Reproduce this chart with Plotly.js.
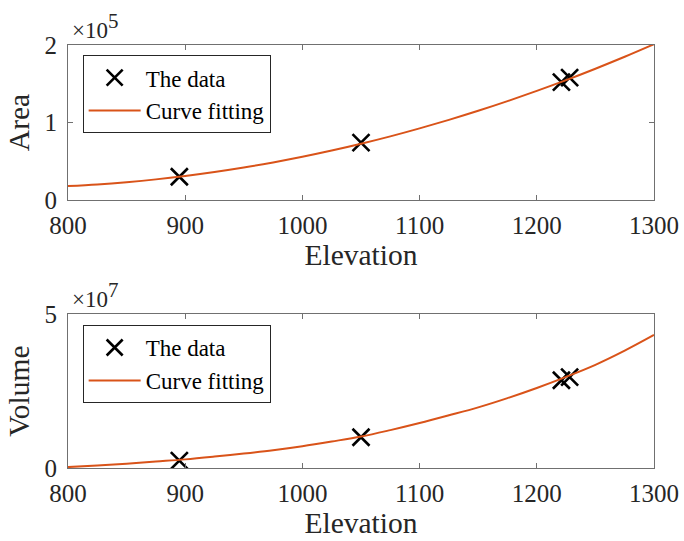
<!DOCTYPE html>
<html>
<head>
<meta charset="utf-8">
<script src="https://cdn.plot.ly/plotly-3.0.1.min.js"></script>
<style>html,body{margin:0;padding:0;background:#fff;}#chart{width:684px;height:541px;}</style>
</head>
<body>
<div id="chart"></div>
<script>
// Measured data points
var dataElevation = [895, 1050, 1221, 1228];
var dataArea = [30000, 74000, 152000, 158000];
var dataVolume = [2.4e6, 1.0e7, 2.85e7, 2.95e7];

// Fitted curves
var fitElevation = [800, 825, 850, 875, 900, 925, 950, 975, 1000, 1025, 1050, 1075, 1100, 1125, 1150, 1175, 1200, 1225, 1250, 1275, 1300];
var fitArea = [18000, 20100, 23000, 26600, 31000, 36100, 41900, 48500, 55800, 63800, 72600, 82100, 92400, 103400, 115100, 127600, 140800, 154700, 169400, 184800, 201000];
var fitVolume = [0.3e6, 0.8e6, 1.4e6, 2.1e6, 2.8e6, 3.7e6, 4.7e6, 5.8e6, 7.1e6, 8.6e6, 10.2e6, 12.3e6, 14.6e6, 17.1e6, 19.7e6, 22.7e6, 26.0e6, 29.6e6, 33.5e6, 38.1e6, 43.2e6];

// Tick labels
var xTicks = [800, 900, 1000, 1100, 1200, 1300];
var areaTicks = [0, 1e5, 2e5];
var areaTickText = ['0', '1', '2'];
var volumeTicks = [0, 5e7];
var volumeTickText = ['0', '5'];

var FONT = 'Liberation Serif, Times New Roman, serif';
var TXT = '#262626';
var AXC = '#707070';
var ORANGE = '#D95319';

var markerStyle = {symbol: 'x-thin', size: 17, color: '#000', line: {width: 2.6, color: '#000'}};
var lineStyle = {color: ORANGE, width: 2, shape: 'spline'};

var traces = [
  {x: dataElevation, y: dataArea, mode: 'markers', name: 'The data', marker: markerStyle, xaxis: 'x', yaxis: 'y', legend: 'legend'},
  {x: fitElevation, y: fitArea, mode: 'lines', name: 'Curve fitting', line: lineStyle, xaxis: 'x', yaxis: 'y', legend: 'legend'},
  {x: dataElevation, y: dataVolume, mode: 'markers', name: 'The data', marker: markerStyle, xaxis: 'x2', yaxis: 'y2', legend: 'legend2'},
  {x: fitElevation, y: fitVolume, mode: 'lines', name: 'Curve fitting', line: lineStyle, xaxis: 'x2', yaxis: 'y2', legend: 'legend2'}
];

function xAxis(anchor) {
  return {
    range: [800, 1300], tickvals: xTicks, ticks: 'inside', ticklen: 5, tickcolor: AXC,
    showline: true, linecolor: AXC, linewidth: 1, mirror: 'allticks', showgrid: false, zeroline: false,
    tickfont: {family: FONT, size: 25, color: TXT}, ticklabelstandoff: 3,
    title: {text: 'Elevation', font: {family: FONT, size: 29.5, color: TXT}, standoff: 2},
    anchor: anchor
  };
}
function yAxis(range, vals, text, title, dom, anchor) {
  return {
    range: range, tickvals: vals, ticktext: text, ticks: 'inside', ticklen: 5, tickcolor: AXC,
    showline: true, linecolor: AXC, linewidth: 1, mirror: 'allticks', showgrid: false, zeroline: false,
    tickfont: {family: FONT, size: 25, color: TXT}, ticklabelstandoff: 5,
    title: {text: title, font: {family: FONT, size: 29.5, color: TXT}, standoff: 6},
    domain: dom, anchor: anchor
  };
}

var legendStyle = {
  bgcolor: '#fff', bordercolor: '#262626', borderwidth: 1,
  font: {family: FONT, size: 23, color: '#000'},
  xanchor: 'left', yanchor: 'top', tracegroupgap: 0, itemwidth: 52
};

var layout = {
  width: 684, height: 541,
  margin: {l: 68, r: 30, t: 45, b: 73},
  paper_bgcolor: '#fff', plot_bgcolor: '#fff',
  showlegend: true,
  xaxis: xAxis('y'),
  yaxis: yAxis([0, 2e5], areaTicks, areaTickText, 'Area', [0.6336, 1], 'x'),
  xaxis2: xAxis('y2'),
  yaxis2: yAxis([0, 5e7], volumeTicks, volumeTickText, 'Volume', [0, 0.364], 'x2'),
  legend: Object.assign({x: 0.025, y: 0.976}, legendStyle),
  legend2: Object.assign({x: 0.025, y: 0.338}, legendStyle),
  annotations: [
    {text: '×10<sup><span style="font-size:21px">5</span></sup>', xref: 'paper', yref: 'paper', x: 0.004, y: 1, xanchor: 'left', yanchor: 'bottom', showarrow: false, font: {family: FONT, size: 23, color: TXT}, yshift: 0},
    {text: '×10<sup><span style="font-size:21px">7</span></sup>', xref: 'paper', yref: 'paper', x: 0.004, y: 0.364, xanchor: 'left', yanchor: 'bottom', showarrow: false, font: {family: FONT, size: 23, color: TXT}, yshift: 0}
  ]
};

Plotly.newPlot('chart', traces, layout, {displayModeBar: false, staticPlot: true});
</script>
</body>
</html>
